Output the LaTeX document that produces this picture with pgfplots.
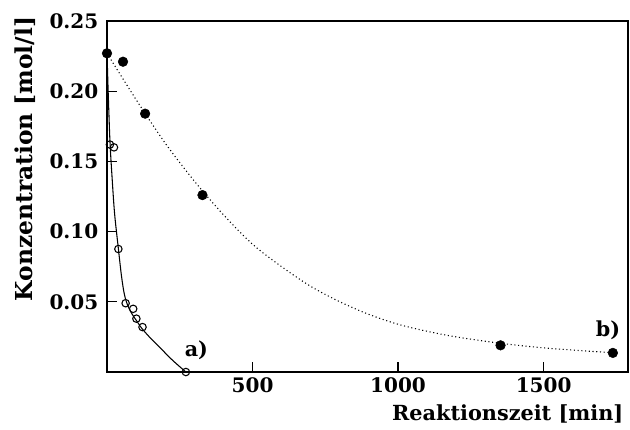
\documentclass[border=0pt]{standalone}
\usepackage{fontspec}
\setmainfont{DejaVu Serif}
\usepackage{pgfplots}
\pgfplotsset{compat=1.18}
\begin{document}
\begin{tikzpicture}
\begin{axis}[
  name=ax,
  scale only axis,
  width=390.75pt, height=263.25pt,
  xmin=0, xmax=1790, ymin=0, ymax=0.25,
  xtick={500,1000,1500},
  ytick={0.05,0.10,0.15,0.20,0.25},
  yticklabel style={/pgf/number format/fixed, /pgf/number format/fixed zerofill, /pgf/number format/precision=2, xshift=-3pt},
  /pgf/number format/assume math mode=true,
  /pgf/number format/1000 sep={},
  tick label style={font=\bfseries\fontsize{15}{15}\selectfont},
  tick align=inside,
  tick pos=left,
  major tick length=7.5pt,
  axis line style={line width=1.4pt},
  every tick/.style={line width=0.9pt, black},
  xticklabel style={yshift=-1pt},
  clip=false,
]
% curve a (solid)
\addplot[black, line width=0.8pt, smooth, tension=0.5] coordinates {
 (0,0.228) (4,0.20) (10,0.165) (17,0.14) (26,0.113) (39,0.088) (50,0.068)
 (60,0.055) (72,0.047) (87,0.041) (100,0.037) (120,0.031) (150,0.024)
 (179,0.018) (224,0.0086) (271,0.0)
};
% curve b (dotted)
\addplot[black, line width=0.8pt, smooth, dash pattern=on 0.8pt off 2pt] coordinates {
 (0,0.227) (100,0.194) (200,0.163) (300,0.136) (400,0.112) (500,0.091)
 (600,0.075) (700,0.061) (800,0.050) (900,0.041) (1000,0.034) (1100,0.029)
 (1200,0.025) (1350,0.0205) (1500,0.0172) (1650,0.0149) (1740,0.0137)
};
% measured points a (open circles)
\addplot[only marks, mark=o, mark size=2.8pt, black, line width=0.8pt] coordinates {
 (10,0.162) (24,0.160) (39,0.0876) (64,0.049) (90,0.045) (101,0.038) (122,0.032) (271,0.0)
};
% measured points b (filled circles)
\addplot[only marks, mark=*, mark size=3.6pt, black] coordinates {
 (0,0.227) (55,0.221) (131,0.184) (328,0.126) (1352,0.019) (1738,0.0136)
};
\node[font=\bfseries\fontsize{15.5}{15}\selectfont] at (axis cs:307,0.0157) {a)};
\node[font=\bfseries\fontsize{15.5}{15}\selectfont] at (axis cs:1721,0.030) {b)};
\node[font=\bfseries\fontsize{15.6}{16}\selectfont, anchor=base east] at ([yshift=-36pt]rel axis cs:1,0) {Reaktionszeit [min]};
\node[font=\bfseries\fontsize{17.5}{18}\selectfont, rotate=90, anchor=base east] at ([xshift=-56pt,yshift=6.75pt]rel axis cs:0,1) {Konzentration [mol/l]};
\end{axis}
\pgfresetboundingbox
\path ([xshift=-80.25pt,yshift=-42.75pt]ax.south west) rectangle ++(472.5pt,321.75pt);
\end{tikzpicture}
\end{document}
